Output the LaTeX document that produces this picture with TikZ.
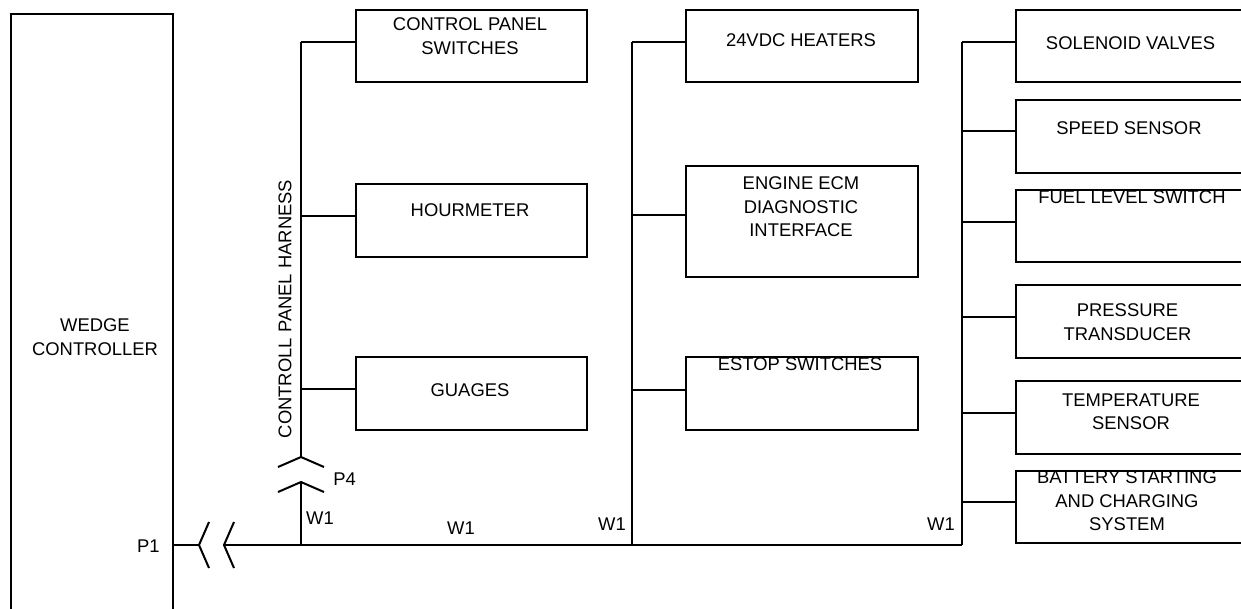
\documentclass[tikz,border=0pt]{standalone}
\usepackage{fontspec}
\setmainfont{Liberation Sans}
\begin{document}
\begin{tikzpicture}[x=0.75pt,y=-0.75pt,line width=1.5pt,
  box/.style={draw,rectangle,inner sep=0pt,anchor=north west},
  txt/.style={inner sep=0pt,align=center,font=\fontsize{13.8}{17.6}\selectfont},
  wire/.style={line width=1.5pt}]
\useasboundingbox (0,0) rectangle (1241,608);
\clip (0,0) rectangle (1241,608);
% boxes
\node[box,minimum width=162*0.75pt,minimum height=640*0.75pt] (wedge) at (10,13) {};
\node[box,minimum width=231*0.75pt,minimum height=72*0.75pt] (cps) at (355,9) {};
\node[box,minimum width=231*0.75pt,minimum height=73*0.75pt] (hour) at (355,183) {};
\node[box,minimum width=231*0.75pt,minimum height=73*0.75pt] (guag) at (355,356) {};
\node[box,minimum width=232*0.75pt,minimum height=72*0.75pt] (heat) at (685,9) {};
\node[box,minimum width=232*0.75pt,minimum height=111*0.75pt] (ecm) at (685,165) {};
\node[box,minimum width=232*0.75pt,minimum height=73*0.75pt] (estop) at (685,356) {};
\node[box,minimum width=232*0.75pt,minimum height=72*0.75pt] (sol) at (1015,9) {};
\node[box,minimum width=232*0.75pt,minimum height=73*0.75pt] (speed) at (1015,99) {};
\node[box,minimum width=232*0.75pt,minimum height=72*0.75pt] (fuel) at (1015,189) {};
\node[box,minimum width=232*0.75pt,minimum height=73*0.75pt] (press) at (1015,284) {};
\node[box,minimum width=232*0.75pt,minimum height=73*0.75pt] (temp) at (1015,380) {};
\node[box,minimum width=232*0.75pt,minimum height=72*0.75pt] (batt) at (1015,470) {};
% texts
\node[txt] (twedge) at (95,337) {WEDGE\\CONTROLLER};
\node[txt] (tcps) at (470,36.2) {CONTROL PANEL\\SWITCHES};
\node[txt] (thour) at (470,210) {HOURMETER};
\node[txt] (tguag) at (470,390) {GUAGES};
\node[txt] (theat) at (801,40) {24VDC HEATERS};
\node[txt] (tecm) at (801,207) {ENGINE ECM\\DIAGNOSTIC\\INTERFACE};
\node[txt] (testop) at (800,364) {ESTOP SWITCHES};
\node[txt] (tsol) at (1130.5,43) {SOLENOID VALVES};
\node[txt] (tspeed) at (1129,128) {SPEED SENSOR};
\node[txt] (tfuel) at (1132,197) {FUEL LEVEL SWITCH};
\node[txt] (tpress) at (1127.5,322.3) {PRESSURE\\TRANSDUCER};
\node[txt] (ttemp) at (1131,412) {TEMPERATURE\\SENSOR};
\node[txt] (tbatt) at (1127,501) {BATTERY STARTING\\AND CHARGING\\SYSTEM};
\node[txt,rotate=90] (harness) at (285,309) {CONTROLL PANEL HARNESS};
\node[txt] (lp1) at (148.3,546.5) {P1};
\node[txt] (lp4) at (344.5,479) {P4};
\node[txt] (lw1a) at (320,518) {W1};
\node[txt] (lw1b) at (461,528) {W1};
\node[txt] (lw1c) at (612,524) {W1};
\node[txt] (lw1d) at (941,524) {W1};
% coordinates
\coordinate (wout) at (172,545);
\coordinate (c1) at (199,545);
\coordinate (c1a) at (209,522);
\coordinate (c1b) at (209,568);
\coordinate (c2) at (224,545);
\coordinate (c2a) at (234,522);
\coordinate (c2b) at (234,568);
\coordinate (j1) at (301,545);
\coordinate (j2) at (632,545);
\coordinate (j3) at (962,545);
\coordinate (p4lo) at (301,482);
\coordinate (p4loa) at (278,492);
\coordinate (p4lob) at (324,492);
\coordinate (p4hi) at (301,457);
\coordinate (p4hia) at (278,467);
\coordinate (p4hib) at (324,467);
\coordinate (b1t) at (301,42);
\coordinate (b1h) at (301,216);
\coordinate (b1g) at (301,389);
\coordinate (b2t) at (632,42);
\coordinate (b2e) at (632,215);
\coordinate (b2s) at (632,390);
\coordinate (b3t) at (962,42);
\coordinate (b3sp) at (962,131);
\coordinate (b3f) at (962,222);
\coordinate (b3p) at (962,317);
\coordinate (b3te) at (962,413);
\coordinate (b3b) at (962,502);
% main wire and connectors
\draw[wire] (wout) -- (c1);
\draw[wire] (c1a) -- (c1) -- (c1b);
\draw[wire] (c2a) -- (c2) -- (c2b);
\draw[wire] (c2) -- (j3);
\draw[wire] (j1) -- (p4lo);
\draw[wire] (p4loa) -- (p4lo) -- (p4lob);
\draw[wire] (p4hia) -- (p4hi) -- (p4hib);
\draw[wire] (p4hi) -- (b1t);
\draw[wire] (j2) -- (b2t);
\draw[wire] (j3) -- (b3t);
% branches
\draw[wire] (b1t) -- (b1t -| cps.west);
\draw[wire] (b1h) -- (b1h -| hour.west);
\draw[wire] (b1g) -- (b1g -| guag.west);
\draw[wire] (b2t) -- (b2t -| heat.west);
\draw[wire] (b2e) -- (b2e -| ecm.west);
\draw[wire] (b2s) -- (b2s -| estop.west);
\draw[wire] (b3t) -- (b3t -| sol.west);
\draw[wire] (b3sp) -- (b3sp -| speed.west);
\draw[wire] (b3f) -- (b3f -| fuel.west);
\draw[wire] (b3p) -- (b3p -| press.west);
\draw[wire] (b3te) -- (b3te -| temp.west);
\draw[wire] (b3b) -- (b3b -| batt.west);
\end{tikzpicture}
\end{document}
